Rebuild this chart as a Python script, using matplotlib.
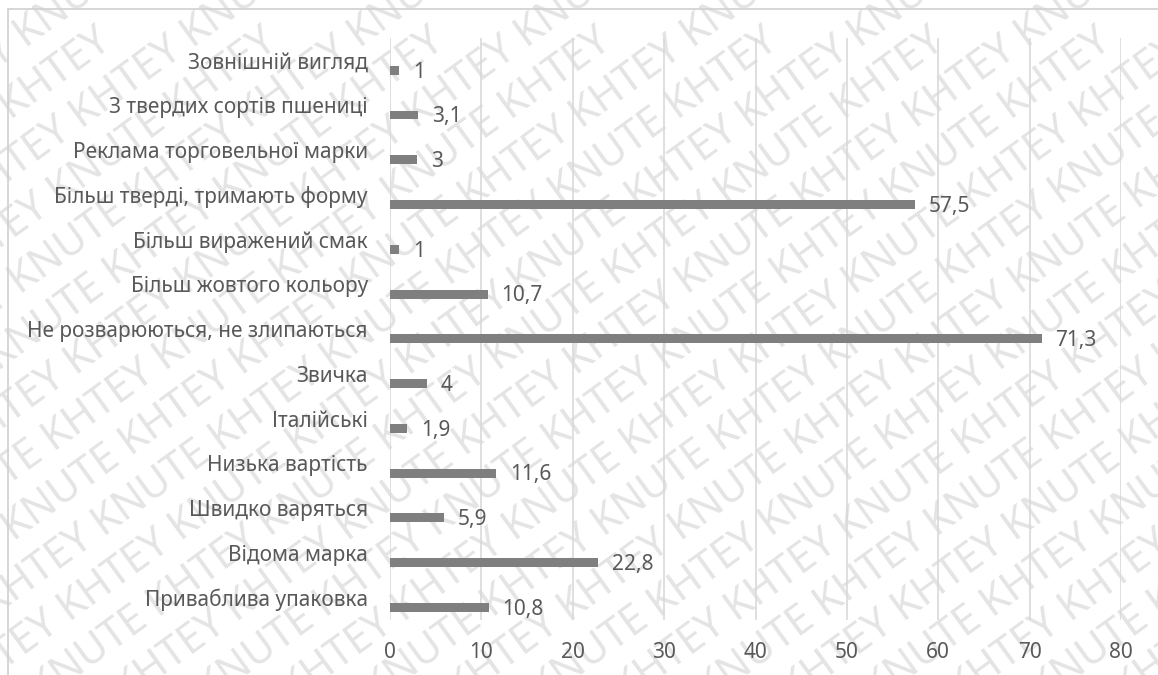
import matplotlib
matplotlib.use("Agg")
import matplotlib.pyplot as plt
from matplotlib.patches import Rectangle

categories = [
    "Зовнішній вигляд",
    "З твердих сортів пшениці",
    "Реклама торговельної марки",
    "Більш тверді, тримають форму",
    "Більш виражений смак",
    "Більш жовтого кольору",
    "Не розварюються, не злипаються",
    "Звичка",
    "Італійські",
    "Низька вартість",
    "Швидко варяться",
    "Відома марка",
    "Приваблива упаковка",
]
values = [1, 3.1, 3, 57.5, 1, 10.7, 71.3, 4, 1.9, 11.6, 5.9, 22.8, 10.8]
x_ticks = [0, 10, 20, 30, 40, 50, 60, 70, 80]

BAR_COLOR = "#7f7f7f"
TEXT_COLOR = "#595959"
GRID_COLOR = "#d9d9d9"
WATERMARK_COLOR = "#e4e4e4"

plt.rcParams["font.family"] = ["Noto Sans", "DejaVu Sans"]
FS = 15

fig = plt.figure(figsize=(11.58, 6.75), dpi=100)
fig.patch.set_facecolor("white")

# faint diagonal watermark behind the chart
for row in range(-10, 18):
    shift = "KHTEY " if row % 2 else ""
    fig.text(row * 0.072 - 0.3, -0.3, (shift + "KNUTE KHTEY ") * 5,
             rotation=36, rotation_mode="anchor", fontsize=30,
             color=WATERMARK_COLOR, ha="left", va="bottom", zorder=-5)

# outer chart border (only left and top visible in the crop)
fig.patches.append(Rectangle((8 / 1158, -0.2), 1.2, 1.2 - 9 / 675,
                             transform=fig.transFigure, fill=False,
                             edgecolor="#d0d0d0", linewidth=1.2, zorder=-4))

ax = fig.add_axes([390 / 1158, 1 - 620 / 675, (1121 - 390) / 1158, (620 - 38) / 675])
ax.set_facecolor("none")

ypos = list(range(len(categories)))
# bars sit a bit below the category centre, as in the source
ax.barh([y + 0.22 for y in ypos], values, height=0.2, color=BAR_COLOR, zorder=2)

for y, v in zip(ypos, values):
    ax.text(v + 1.5, y + 0.26, f"{v:g}".replace(".", ","), va="center", ha="left",
            fontsize=FS, color=TEXT_COLOR, zorder=3)

ax.set_xlim(0, 80)
ax.set_ylim(len(categories) - 0.5, -0.5)
ax.set_xticks(x_ticks)
ax.set_yticks(ypos)
ax.set_yticklabels(categories)
ax.tick_params(axis="both", length=0, colors=TEXT_COLOR, labelsize=FS)
ax.tick_params(axis="y", pad=16)
ax.tick_params(axis="x", pad=16)
ax.grid(axis="x", color=GRID_COLOR, linewidth=1.2, zorder=1)
for s in ax.spines.values():
    s.set_visible(False)

fig.savefig("out.png", dpi=100)
